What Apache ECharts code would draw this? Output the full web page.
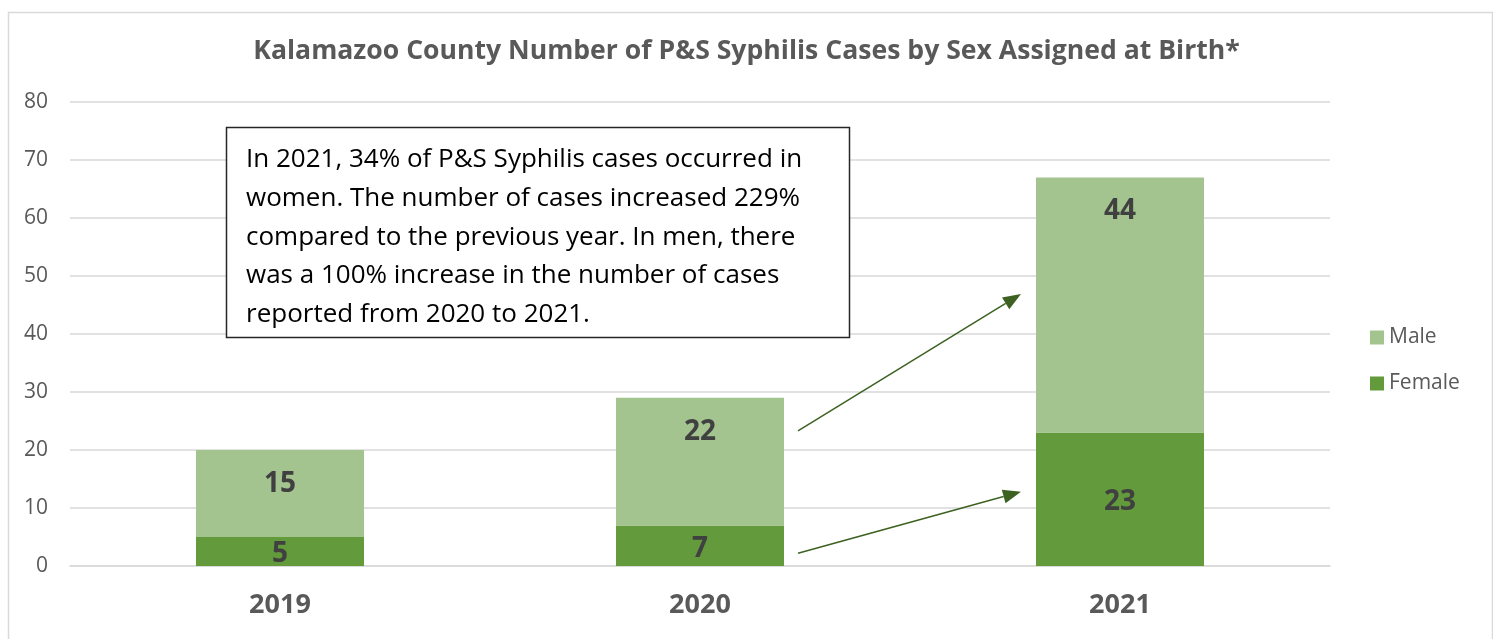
<!DOCTYPE html>
<html><head><meta charset="utf-8">
<script src="https://cdn.jsdelivr.net/npm/echarts@6/dist/echarts.min.js"></script>
<style>html,body{margin:0;padding:0;background:#fff}#c{width:1493px;height:639px}</style>
</head><body><div id="c"></div>
<script>
const categories = ['2019', '2020', '2021'];
const female = [5, 7, 23];
const male = [15, 22, 44];
const yTicks = [0, 10, 20, 30, 40, 50, 60, 70, 80];
const titleText = 'Kalamazoo County Number of P&S Syphilis Cases by Sex Assigned at Birth*';
const noteLines = [
  'In 2021, 34% of P&S Syphilis cases occurred in',
  'women. The number of cases increased 229%',
  'compared to the previous year. In men, there',
  'was a 100% increase in the number of cases',
  'reported from 2020 to 2021.'
];
// arrow annotation anchors: [category, value] start -> end
const arrows = [
  { from: ['2020', 23.3], to: ['2021', 46.9] },
  { from: ['2020', 2.2], to: ['2021', 12.8] }
];

const FONT = '"Open Sans", sans-serif';
const chart = echarts.init(document.getElementById('c'), null, { renderer: 'canvas' });
const option = {
  animation: false,
  backgroundColor: '#fff',
  title: {
    text: titleText, left: 'center', top: 33,
    textStyle: { fontFamily: FONT, fontSize: 26.6, fontWeight: 'bold', color: '#595959' }
  },
  legend: {
    orient: 'vertical', left: 1365, top: 322, itemGap: 25,
    itemWidth: 14, itemHeight: 14, icon: 'rect',
    data: ['Male', 'Female'],
    textStyle: { fontFamily: FONT, fontSize: 21, color: '#595959' }
  },
  grid: { left: 70, right: 163, top: 102, bottom: 73, containLabel: false },
  xAxis: {
    type: 'category', data: categories,
    axisLine: { show: true, lineStyle: { color: '#D9D9D9', width: 1.5 } },
    axisTick: { show: false },
    axisLabel: { fontFamily: FONT, fontSize: 27, fontWeight: 'bold', color: '#595959', margin: 26 }
  },
  yAxis: {
    type: 'value', min: yTicks[0], max: yTicks[yTicks.length - 1], interval: 10,
    axisLine: { show: false }, axisTick: { show: false },
    splitLine: { lineStyle: { color: '#D9D9D9', width: 1.5 } },
    axisLabel: { fontFamily: FONT, fontSize: 21, color: '#595959', margin: 22 }
  },
  series: [
    {
      name: 'Female', type: 'bar', stack: 'total', data: female,
      barWidth: '40%',
      itemStyle: { color: '#629A3C' },
      label: { show: true, position: 'inside', offset: [0, 3], fontFamily: FONT, fontSize: 28, fontWeight: 'bold', color: '#404040' }
    },
    {
      name: 'Male', type: 'bar', stack: 'total', data: male,
      barWidth: '40%',
      itemStyle: { color: '#A3C48F' },
      label: { show: true, position: 'insideTop', distance: 20, fontFamily: FONT, fontSize: 28, fontWeight: 'bold', color: '#404040' }
    }
  ]
};
chart.setOption(option);

function addGraphics() {
  const lineH = 38.6;
  const elements = [
    { type: 'rect', shape: { x: 0, y: 0, width: 1484, height: 700 }, left: 6, top: 10, silent: true,
      style: { fill: 'none', stroke: '#D9D9D9', lineWidth: 1.5 }, z: 0 },
    { type: 'rect', shape: { x: 226.5, y: 127.5, width: 623, height: 210 },
      style: { fill: '#fff', stroke: '#262626', lineWidth: 1.5 }, z: 10 }
  ];
  noteLines.forEach((t, i) => {
    elements.push({ type: 'text', x: 246, y: 160 + i * lineH, z: 11,
      style: { text: t, fontFamily: FONT, fontSize: 26, fill: '#000', verticalAlign: 'middle' } });
  });
  arrows.forEach(a => {
    const x1 = chart.convertToPixel({ xAxisIndex: 0 }, a.from[0]) + 98;
    const y1 = chart.convertToPixel({ yAxisIndex: 0 }, a.from[1]);
    const x2 = chart.convertToPixel({ xAxisIndex: 0 }, a.to[0]) - 99;
    const y2 = chart.convertToPixel({ yAxisIndex: 0 }, a.to[1]);
    const ang = Math.atan2(y2 - y1, x2 - x1);
    const L = 18, W = 7;
    const bx = x2 - L * Math.cos(ang), by = y2 - L * Math.sin(ang);
    elements.push({ type: 'line', z: 12, shape: { x1, y1, x2: bx, y2: by },
      style: { stroke: '#3C6121', lineWidth: 1.5 } });
    elements.push({ type: 'polygon', z: 12, shape: { points: [
      [x2, y2],
      [bx + W * Math.sin(ang), by - W * Math.cos(ang)],
      [bx - W * Math.sin(ang), by + W * Math.cos(ang)]
    ] }, style: { fill: '#3C6121' } });
  });
  chart.setOption({ graphic: { elements } });
}
addGraphics();
</script></body></html>
